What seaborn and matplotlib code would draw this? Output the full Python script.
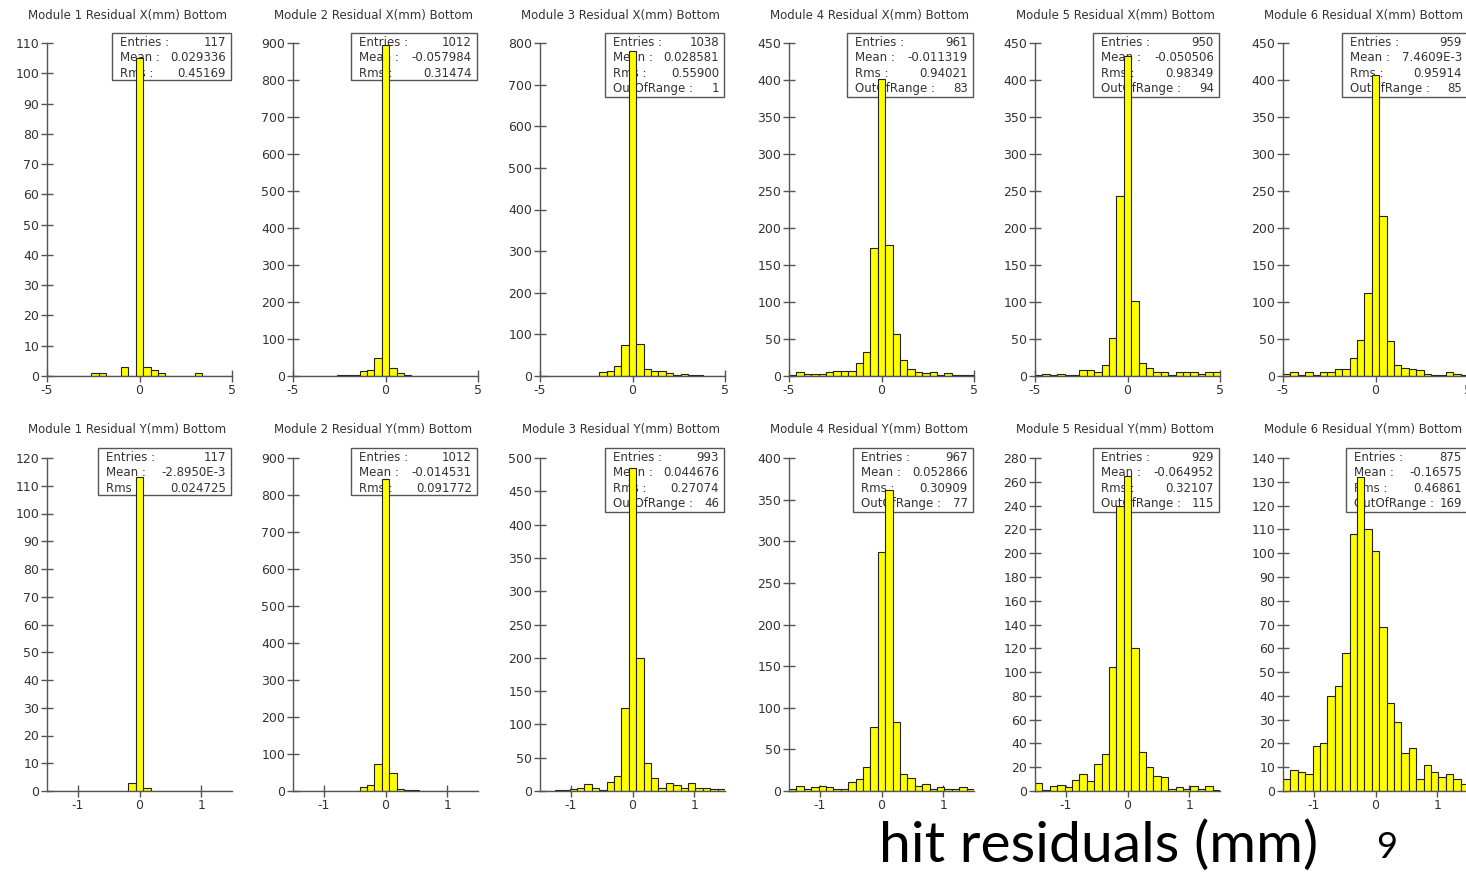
import numpy as np
import pandas as pd
import matplotlib
matplotlib.use("Agg")
import matplotlib.pyplot as plt
import seaborn as sns
from matplotlib.patches import Rectangle

# ---------------- data ----------------
# 25 bins over [-5, 5] (X residuals) and over [-1.5, 1.5] (Y residuals)
x_m1 = [0, 0, 0, 0, 0, 0, 1, 1, 0, 0, 3, 0, 105, 3, 2, 1, 0, 0, 0, 0, 1, 0, 0, 0, 0]
x_m2 = [0, 0, 0, 0, 1, 0, 2, 2, 4, 14, 15, 48, 895, 22, 7, 2, 0, 0, 0, 0, 0, 0, 0, 0, 0]
x_m3 = [0, 0, 0, 0, 1, 1, 1, 0, 10, 11, 23, 75, 780, 78, 16, 12, 12, 7, 2, 4, 3, 2, 1, 0, 0]
x_m4 = [2, 5, 3, 3, 3, 5, 7, 7, 7, 17, 32, 173, 402, 177, 57, 22, 10, 6, 4, 5, 1, 4, 1, 1, 2]
x_m5 = [1, 3, 2, 3, 2, 2, 8, 8, 6, 15, 52, 243, 432, 102, 17, 11, 5, 5, 1, 5, 6, 5, 3, 6, 6]
x_m6 = [3, 5, 1, 5, 2, 5, 6, 10, 10, 24, 49, 112, 407, 216, 47, 15, 11, 9, 8, 3, 1, 1, 5, 3, 1]

y_m1 = [0, 0, 0, 0, 0, 0, 0, 0, 0, 0, 0, 3, 113, 1, 0, 0, 0, 0, 0, 0, 0, 0, 0, 0, 0]
y_m2 = [0, 0, 0, 0, 0, 1, 1, 1, 1, 12, 17, 72, 843, 48, 5, 3, 2, 1, 1, 1, 0, 0, 0, 0, 0]
y_m3 = [0, 0, 1, 2, 3, 5, 11, 5, 1, 13, 23, 125, 485, 200, 42, 19, 5, 12, 9, 5, 12, 4, 4, 3, 3]
y_m4 = [3, 6, 2, 5, 6, 5, 3, 3, 11, 15, 29, 77, 287, 362, 83, 21, 16, 6, 9, 2, 5, 2, 2, 5, 2]
y_m5 = [7, 1, 4, 5, 3, 9, 14, 8, 23, 31, 104, 240, 265, 120, 33, 20, 13, 12, 2, 3, 2, 4, 2, 4, 1]
y_m6 = [5, 9, 8, 7, 19, 20, 40, 44, 58, 108, 132, 110, 101, 69, 37, 29, 16, 18, 5, 11, 8, 6, 7, 5, 3]

titles_x = [f"Module {i} Residual X(mm) Bottom" for i in range(1, 7)]
titles_y = [f"Module {i} Residual Y(mm) Bottom" for i in range(1, 7)]

entries_x = ["117", "1012", "1038", "961", "950", "959"]
mean_x = ["0.029336", "-0.057984", "0.028581", "-0.011319", "-0.050506", "7.4609E-3"]
rms_x = ["0.45169", "0.31474", "0.55900", "0.94021", "0.98349", "0.95914"]
oor_x = [None, None, "1", "83", "94", "85"]

entries_y = ["117", "1012", "993", "967", "929", "875"]
mean_y = ["-2.8950E-3", "-0.014531", "0.044676", "0.052866", "-0.064952", "-0.16575"]
rms_y = ["0.024725", "0.091772", "0.27074", "0.30909", "0.32107", "0.46861"]
oor_y = [None, None, "46", "77", "115", "169"]

ymax_x = [110, 900, 800, 450, 450, 450]
ystep_x = [10, 100, 100, 50, 50, 50]
ymax_y = [120, 900, 500, 400, 280, 140]
ystep_y = [10, 100, 50, 50, 20, 10]

xticks_top = [-5, 0, 5]
xticks_bot = [-1, 0, 1]

# ---------------- layout ----------------
W, H = 1466, 875
sns.set_style("white")
plt.rcParams["font.family"] = ["DejaVu Sans"]
plt.rcParams["axes.unicode_minus"] = False

fig = plt.figure(figsize=(W / 100, H / 100), dpi=100)

lefts = [47, 293, 540, 789, 1035, 1283]
ax_w = 185
rows = [(43, 376), (458, 791)]
box_left_top = [112, 351, 605, 847, 1093, 1342]
box_left_bot = [98, 351, 605, 853, 1093, 1346]

TXT = "#333333"
SPINE = "#555555"


def fx(px):
    return px / W


def fy(py):
    return 1 - py / H


def draw_panel(col, row, counts, edges, xlim, xticks, ymax, ystep, title,
               entries, mean, rms, oor, box_left):
    top, bot = rows[row]
    left = lefts[col]
    ax = fig.add_axes([fx(left), fy(bot), ax_w / W, (bot - top) / H])
    edges = [float(e) for e in edges]
    centers = [0.5 * (a + b) for a, b in zip(edges[:-1], edges[1:])]
    df = pd.DataFrame({"resid": centers, "count": [float(c) for c in counts]})
    sns.histplot(data=df, x="resid", weights="count", bins=edges, ax=ax,
                 color="#ffff00", edgecolor="#222222", linewidth=0.8,
                 alpha=1.0, zorder=2)
    ax.set_xlim(*xlim)
    ax.set_ylim(0, ymax)
    ax.set_xlabel("")
    ax.set_ylabel("")
    ax.set_xticks(xticks)
    ax.set_xticklabels([str(t) for t in xticks])
    ax.set_yticks(np.arange(0, ymax + 1, ystep))
    for s in ["top", "right"]:
        ax.spines[s].set_visible(False)
    for s in ["left", "bottom"]:
        ax.spines[s].set_color(SPINE)
        ax.spines[s].set_linewidth(1.0)
    ax.tick_params(axis="both", which="major", bottom=True, left=True,
                   direction="inout", length=9, width=1,
                   color=SPINE, labelcolor=TXT, labelsize=9, pad=1)
    ax.patch.set_alpha(0)

    # title
    cx = left + ax_w / 2 - 12
    fig.text(fx(cx), fy(15 + (0 if row == 0 else 415)), title, ha="center",
             va="center", fontsize=8.5, color=TXT)

    # statistics box (drawn under the bars)
    lines = [("Entries :", entries), ("Mean :", mean), ("Rms :", rms)]
    if oor is not None:
        lines.append(("OutOfRange :", oor))
    btop = top - 10
    bh = 47 if len(lines) == 3 else 64
    bright = left + ax_w - 1
    rect = Rectangle((fx(box_left), fy(btop + bh)), (bright - box_left) / W,
                     bh / H, transform=fig.transFigure, fill=False,
                     edgecolor="#555555", linewidth=1.0, clip_on=False,
                     zorder=0.5)
    ax.add_patch(rect)
    for i, (lab, val) in enumerate(lines):
        yy = btop + 9.5 + 15.3 * i
        ax.text(fx(box_left + 8), fy(yy), lab, transform=fig.transFigure,
                ha="left", va="center", fontsize=8.5, color=TXT,
                clip_on=False, zorder=0.6)
        ax.text(fx(bright - 5), fy(yy), val, transform=fig.transFigure,
                ha="right", va="center", fontsize=8.5, color=TXT,
                clip_on=False, zorder=0.6)
    return ax


top_counts = [x_m1, x_m2, x_m3, x_m4, x_m5, x_m6]
bot_counts = [y_m1, y_m2, y_m3, y_m4, y_m5, y_m6]
edges_top = np.linspace(-5, 5, 26)
edges_bot = np.linspace(-1.5, 1.5, 26)

for c in range(6):
    draw_panel(c, 0, top_counts[c], edges_top, (-5, 5), xticks_top,
               ymax_x[c], ystep_x[c], titles_x[c], entries_x[c], mean_x[c],
               rms_x[c], oor_x[c], box_left_top[c])
    draw_panel(c, 1, bot_counts[c], edges_bot, (-1.5, 1.5), xticks_bot,
               ymax_y[c], ystep_y[c], titles_y[c], entries_y[c], mean_y[c],
               rms_y[c], oor_y[c], box_left_bot[c])

fig.text(fx(1099), fy(846), "hit residuals (mm)", ha="center", va="center",
         fontsize=41, color="black", family=["Lato", "DejaVu Sans"])
fig.text(fx(1387), fy(848), "9", ha="center", va="center",
         fontsize=26, color="black", family=["Lato", "DejaVu Sans"])

fig.savefig("out.png", dpi=100)
